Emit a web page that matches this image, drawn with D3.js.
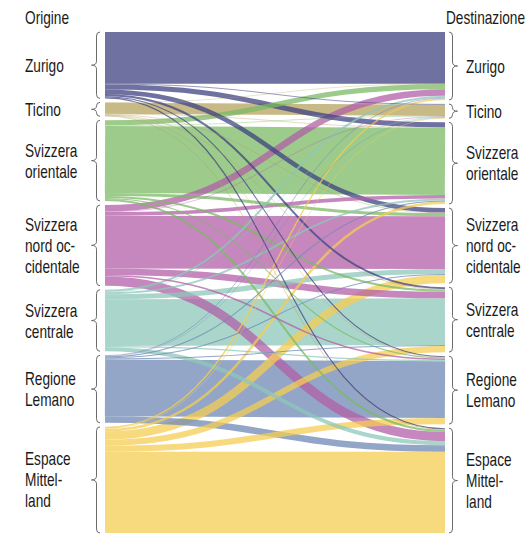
<!DOCTYPE html>
<html><head><meta charset="utf-8">
<script src="https://cdn.jsdelivr.net/npm/d3@7"></script>
<style>
html,body{margin:0;padding:0;background:#fff;}
svg{display:block;}
text{font-family:"Liberation Sans",Arial,sans-serif;font-size:18px;fill:#1a1a1a;}
</style></head><body>
<svg id="chart" width="527" height="534"></svg>
<script>
// Regions (same order for origin and destination)
const regions = ["Zurigo","Ticino","Svizzera orientale","Svizzera nord occidentale","Svizzera centrale","Regione Lemano","Espace Mittelland"];
const labelLines = [["Zurigo"],["Ticino"],["Svizzera","orientale"],["Svizzera","nord oc-","cidentale"],["Svizzera","centrale"],["Regione","Lemano"],["Espace","Mittel-","land"]];
const headerLeft = "Origine";
const headerRight = "Destinazione";

// Flows from each origin to destinations (order as in regions)
const fromZurigo     = [51, 0.7, 5, 4.5, 2, 1, 1.2];
const fromTicino     = [0.3, 11, 0.5, 0.5, 0.5, 0.3, 0.6];
const fromOrientale  = [5, 0.5, 66, 3, 2, 1, 2];
const fromNordOcc    = [6.5, 0.5, 3.5, 52, 6.5, 1.5, 9];
const fromCentrale   = [2, 0.5, 2, 5, 46, 1.2, 4];
const fromLemano     = [0.7, 0.3, 1, 1, 1, 56, 6.5];
const fromMittelland = [1.5, 0.6, 2.5, 8, 6, 6, 80];
const flows = [fromZurigo, fromTicino, fromOrientale, fromNordOcc, fromCentrale, fromLemano, fromMittelland];

const colors = ["#3f4280","#b6a35e","#7bba64","#b25fa7","#8ec7ba","#6f88b6","#f4cc53"];

const svg = d3.select("#chart");
const X0 = 105, X1 = 445, TOP = 32, BOTTOM = 533, GAP = 4;
const SX = 0.76; // condensed type
const n = regions.length;
const outTotals = flows.map(r => d3.sum(r));
const inTotals = regions.map((_, j) => d3.sum(flows, r => r[j]));
const total = d3.sum(outTotals);
const y = d3.scaleLinear().domain([0, total]).range([0, BOTTOM - TOP - GAP * (n - 1)]);
const x = d3.scaleLinear().domain([0, 1]).range([X0, X1]);

function stack(totals) {
  let pos = TOP;
  return totals.map(t => { const a = pos, b = pos + y(t); pos = b + GAP; return [a, b]; });
}
const leftNodes = stack(outTotals), rightNodes = stack(inTotals);
const leftOff = leftNodes.map(d => d[0]), rightOff = rightNodes.map(d => d[0]);
const links = [];
flows.forEach((row, i) => row.forEach((v, j) => {
  const w = y(v);
  links.push({i, j, v, w, y0: leftOff[i] + w / 2, y1: rightOff[j] + w / 2});
  leftOff[i] += w; rightOff[j] += w;
}));

const link = d3.linkHorizontal().source(d => [x(0), d.y0]).target(d => [x(1), d.y1]);
svg.append("g").attr("fill", "none").selectAll("path")
  .data(links.slice().sort((a, b) => b.v - a.v))
  .join("path")
  .attr("d", link)
  .attr("stroke", d => colors[d.i])
  .attr("stroke-opacity", 0.75)
  .attr("stroke-width", d => Math.max(0.4, d.w));

function brace(xe, xb, xt, y0, y1) {
  const mid = (y0 + y1) / 2, r = Math.min(4, (y1 - y0) / 4);
  const p = d3.path();
  p.moveTo(xe, y0);
  p.quadraticCurveTo(xb, y0, xb, y0 + r);
  p.lineTo(xb, mid - r);
  p.quadraticCurveTo(xb, mid, xt, mid);
  p.quadraticCurveTo(xb, mid, xb, mid + r);
  p.lineTo(xb, y1 - r);
  p.quadraticCurveTo(xb, y1, xe, y1);
  return p.toString();
}
const gb = svg.append("g").attr("fill", "none").attr("stroke", "#6b6b6b").attr("stroke-width", 1);
leftNodes.forEach(d => gb.append("path").attr("d", brace(100, 96.5, 91.5, d[0], d[1])));
rightNodes.forEach(d => gb.append("path").attr("d", brace(449, 452.5, 457.5, d[0], d[1])));

function addText(xpos, ypos, s, anchor) {
  svg.append("text")
    .attr("transform", `translate(${xpos},${ypos}) scale(${SX},1)`)
    .attr("text-anchor", anchor || "start")
    .text(s);
}
function labels(nodes, xpos) {
  nodes.forEach((d, i) => {
    const mid = (d[0] + d[1]) / 2, lines = labelLines[i];
    lines.forEach((s, k) => addText(xpos, mid + (k - (lines.length - 1) / 2) * 21 + 6.5, s));
  });
}
labels(leftNodes, 25);
labels(rightNodes, 466);
addText(25, 24, headerLeft);
addText(525, 24, headerRight, "end");
</script>
</body></html>
